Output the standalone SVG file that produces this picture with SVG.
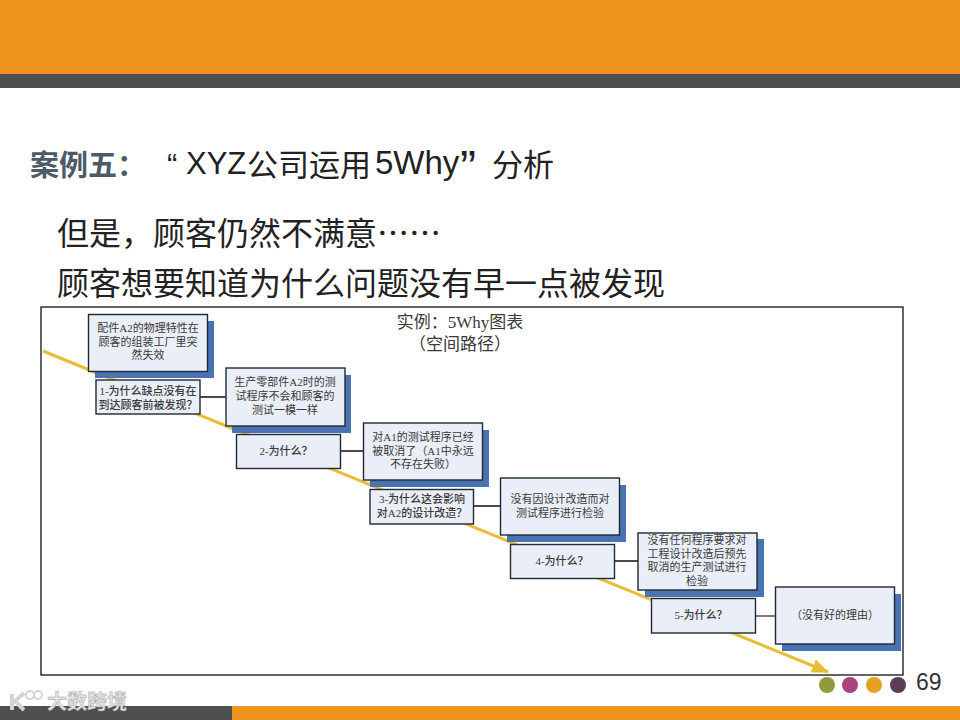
<svg xmlns="http://www.w3.org/2000/svg" width="960" height="720" viewBox="0 0 960 720">
<style>
.s{font-family:"Liberation Sans","Noto Sans CJK SC",sans-serif}
.h{font-size:31px;fill:#222}
.b{font-size:32px;fill:#222;font-family:"Noto Sans CJK SC",sans-serif}
.t{font-family:"Liberation Serif","Noto Sans CJK SC",serif;font-size:11px;fill:#3a3a3a;text-anchor:middle}
.q{font-size:11px;font-weight:500}
.box{fill:#e9eef8;stroke:#1f2a33;stroke-width:1.4}
.sh{fill:#4a73b2}
.c{stroke:#111;stroke-width:1.3;fill:none}
</style>
<defs>
<marker id="ah" markerUnits="userSpaceOnUse" markerWidth="18" markerHeight="14" refX="16" refY="7" orient="auto"><path d="M0 0L17 7L0 14Z" fill="#e9bd35"/></marker>
</defs>
<rect width="960" height="720" fill="#fff"/>
<g id="bands">
<rect width="960" height="74" fill="#f09420"/>
<rect y="74" width="960" height="14" fill="#4d4f50"/>
<rect y="706" width="232" height="14" fill="#4d4f50"/>
<rect x="232" y="706" width="728" height="14" fill="#f09420"/>
</g>
<g id="heading" class="s">
<text x="30" y="176" font-size="29" font-weight="700" fill="#4c5b66">案例五：</text>
<text x="167" y="176" class="h">“</text>
<text x="186" y="174" class="h">XYZ</text>
<text x="247" y="176" class="h">公司运用</text>
<text x="375" y="174" class="h" style="font-size:33px">5Why</text>
<text x="460" y="184" class="h" style="font-size:48px">”</text>
<text x="492" y="176" class="h">分析</text>
<text x="57" y="245" class="b">但是，顾客仍然不满意……</text>
<text x="57" y="295" class="b">顾客想要知道为什么问题没有早一点被发现</text>
</g>
<rect id="frame" x="41" y="307" width="862" height="368" fill="#fff" stroke="#111" stroke-width="1.3"/>
<g id="chart-title" class="t">
<text x="460" y="328" style="font-size:17px">实例：5Why图表</text>
<text x="460" y="350" style="font-size:17px">（空间路径）</text>
</g>
<g id="connectors">
<line x1="43" y1="351" x2="828" y2="672" stroke="#e9bd35" stroke-width="3" marker-end="url(#ah)"/>
<path class="c" d="M200 397H226M340 451H363M473 506H500M614 561H638"/>
<path d="M755 616H775" stroke="#555" stroke-width="1.5" fill="none"/>
</g>
<g id="n1"><rect class="sh" x="95" y="321" width="119" height="57"/><rect class="box" x="88.500" y="314.500" width="119" height="57"/>
<text class="t" x="148" y="332">配件A2的物理特性在</text><text class="t" x="148" y="346">顾客的组装工厂里突</text><text class="t" x="148" y="359">然失效</text></g>
<g id="q1"><rect class="box" x="96" y="380" width="104" height="34"/>
<text class="t q" x="148" y="395">1-为什么缺点没有在</text><text class="t q" x="148" y="409">到达顾客前被发现？</text></g>
<g id="n2"><rect class="sh" x="232" y="375" width="119" height="58"/><rect class="box" x="226" y="368" width="119" height="58"/>
<text class="t" x="285" y="386">生产零部件A2时的测</text><text class="t" x="285" y="400">试程序不会和顾客的</text><text class="t" x="285" y="414">测试一模一样</text></g>
<g id="q2"><rect class="box" x="236.500" y="434.500" width="104" height="34"/>
<text class="t q" x="286" y="455">2-为什么？</text></g>
<g id="n3"><rect class="sh" x="370" y="430" width="119" height="57"/><rect class="box" x="363.500" y="423" width="119" height="57"/>
<text class="t" x="423" y="441">对A1的测试程序已经</text><text class="t" x="423" y="455">被取消了（A1中永远</text><text class="t" x="423" y="468">不存在失败）</text></g>
<g id="q3"><rect class="box" x="370" y="489.500" width="103.500" height="34.500"/>
<text class="t q" x="422" y="503">3-为什么这会影响</text><text class="t q" x="422" y="517">对A2的设计改造？</text></g>
<g id="n4"><rect class="sh" x="507" y="485" width="119" height="57"/><rect class="box" x="500.500" y="478" width="119" height="57"/>
<text class="t" x="560" y="503">没有因设计改造而对</text><text class="t" x="560" y="517">测试程序进行检验</text></g>
<g id="q4"><rect class="box" x="510.500" y="544.500" width="104" height="34"/>
<text class="t q" x="562" y="565">4-为什么？</text></g>
<g id="n5"><rect class="sh" x="645" y="539" width="119" height="58"/><rect class="box" x="638" y="533" width="119" height="57"/>
<text class="t" x="697" y="544">没有任何程序要求对</text><text class="t" x="697" y="558">工程设计改造后预先</text><text class="t" x="697" y="571">取消的生产测试进行</text><text class="t" x="697" y="585">检验</text></g>
<g id="q5"><rect class="box" x="651.500" y="598.500" width="104" height="34.500"/>
<text class="t q" x="701" y="619">5-为什么？</text></g>
<g id="n6"><rect class="sh" x="782" y="594" width="119" height="57"/><rect class="box" x="775.500" y="587" width="119" height="57"/>
<text class="t" x="835" y="619">（没有好的理由）</text></g>
<g id="dots">
<circle cx="827" cy="685" r="8" fill="#8e9a3c"/>
<circle cx="850" cy="685" r="8" fill="#a94480"/>
<circle cx="874" cy="685" r="8" fill="#e6a022"/>
<circle cx="898" cy="685" r="8" fill="#5a3e56"/>
</g>
<text id="page" x="916" y="690" class="s" font-size="23" fill="#333">69</text>
<g id="watermark">
<path d="M12 694V710M24 693L15 701L24 710" stroke="#d4d4d4" stroke-width="4" fill="none"/>
<circle cx="30" cy="695" r="4" fill="none" stroke="#d4d4d4" stroke-width="2"/>
<circle cx="38" cy="695" r="4" fill="none" stroke="#d4d4d4" stroke-width="2"/>
<text x="47" y="709" class="s" font-size="20" font-weight="700" fill="#e4e4e4" stroke="#999" stroke-width=".4">大数跨境</text>
</g>
</svg>
